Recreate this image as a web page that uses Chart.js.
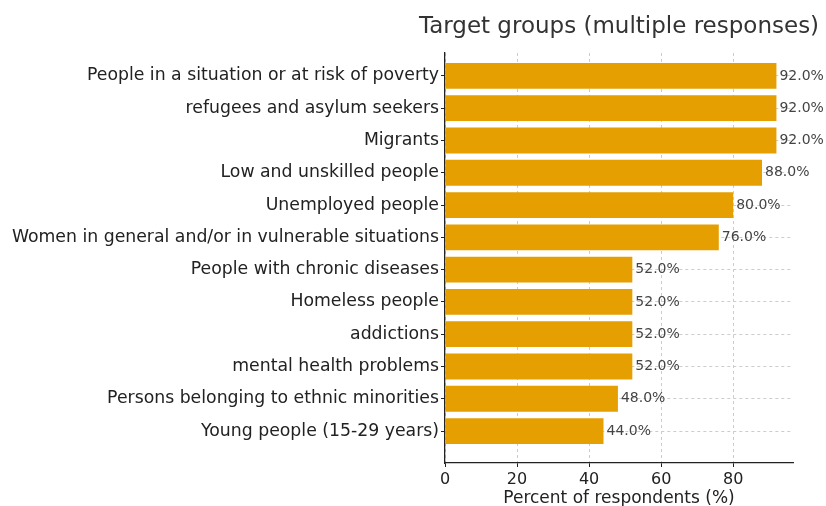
<!DOCTYPE html>
<html>
<head>
<meta charset="utf-8">
<script src="https://cdn.jsdelivr.net/npm/chart.js@4.4.1/dist/chart.umd.min.js"></script>
<style>
    html, body { margin: 0; padding: 0; background: #ffffff; }
    #wrap { width: 826px; height: 506px; position: relative; }
</style>
</head>
<body>
<div id="wrap"><canvas id="groups-graph"></canvas></div>
<script>
const groups = [
    "People in a situation or at risk of poverty",
    "refugees and asylum seekers",
    "Migrants",
    "Low and unskilled people",
    "Unemployed people",
    "Women in general and/or in vulnerable situations",
    "People with chronic diseases",
    "Homeless people",
    "addictions",
    "mental health problems",
    "Persons belonging to ethnic minorities",
    "Young people (15-29 years)",
];
const percents = [92, 92, 92, 88, 80, 76, 52, 52, 52, 52, 48, 44];
const xTicks = [0, 20, 40, 60, 80];

const FONT = "'DejaVu Sans', sans-serif";

// title centred over the plot area, like a matplotlib axes title
const plotTitle = {
    id: "plotTitle",
    afterDraw(chart) {
        const { ctx, chartArea } = chart;
        ctx.save();
        ctx.font = "23px " + FONT;
        ctx.fillStyle = "#333333";
        ctx.textAlign = "center";
        ctx.textBaseline = "middle";
        ctx.fillText("Target groups (multiple responses)", (chartArea.left + chartArea.right) / 2, 27);
        ctx.restore();
    },
};

// percentage written just past the end of each bar
const barValues = {
    id: "barValues",
    afterDatasetsDraw(chart) {
        const { ctx } = chart;
        const meta = chart.getDatasetMeta(0);
        ctx.save();
        ctx.font = "14px " + FONT;
        ctx.fillStyle = "#444444";
        ctx.textAlign = "left";
        ctx.textBaseline = "middle";
        meta.data.forEach((bar, i) => {
            ctx.fillText(percents[i].toFixed(1) + "%", bar.x + 3, bar.y);
        });
        ctx.restore();
    },
};

const ctx = document.getElementById("groups-graph").getContext("2d");

new Chart(ctx, {
    type: "bar",
    data: {
        datasets: [
            {
                data: percents.map((v, i) => ({ x: v, y: i })),
                backgroundColor: "#E69F00",
                borderWidth: 0,
                barPercentage: 0.8,
                categoryPercentage: 1,
            },
        ],
    },
    options: {
        indexAxis: "y",
        responsive: true,
        maintainAspectRatio: false,
        animation: false,
        layout: {
            padding: { top: 53, right: 33, left: 0, bottom: 0 },
        },
        plugins: {
            legend: { display: false },
            tooltip: { enabled: false },
        },
        scales: {
            x: {
                type: "linear",
                min: 0,
                max: 96.6,
                afterBuildTicks: (scale) => {
                    scale.ticks = xTicks.map((v) => ({ value: v }));
                },
                afterFit: (scale) => {
                    scale.height = 43;
                },
                ticks: {
                    padding: 3,
                    color: "#222222",
                    font: { family: FONT, size: 16 },
                },
                grid: {
                    color: "#cccccc",
                    lineWidth: 1,
                    tickLength: 4,
                    tickColor: "#222222",
                    tickWidth: 1,
                },
                border: {
                    display: true,
                    color: "#222222",
                    width: 1.3,
                    dash: [3, 3],
                },
                title: {
                    display: true,
                    text: "Percent of respondents (%)",
                    color: "#222222",
                    font: { family: FONT, size: 17 },
                    padding: { top: 0, bottom: -3 },
                },
            },
            y: {
                type: "linear",
                reverse: true,
                offset: false,
                min: -0.71,
                max: 11.99,
                afterBuildTicks: (scale) => {
                    scale.ticks = groups.map((_, i) => ({ value: i }));
                },
                afterFit: (scale) => {
                    scale.width = 445;
                },
                ticks: {
                    padding: 2,
                    color: "#222222",
                    font: { family: FONT, size: 17.3 },
                    callback: (value) => groups[value],
                },
                grid: {
                    offset: false,
                    color: "#cccccc",
                    lineWidth: 1,
                    tickLength: 4,
                    tickColor: "#222222",
                    tickWidth: 1,
                },
                border: {
                    display: true,
                    color: "#222222",
                    width: 1.3,
                    dash: [3, 3],
                },
            },
        },
    },
    plugins: [plotTitle, barValues],
});
</script>
</body>
</html>
